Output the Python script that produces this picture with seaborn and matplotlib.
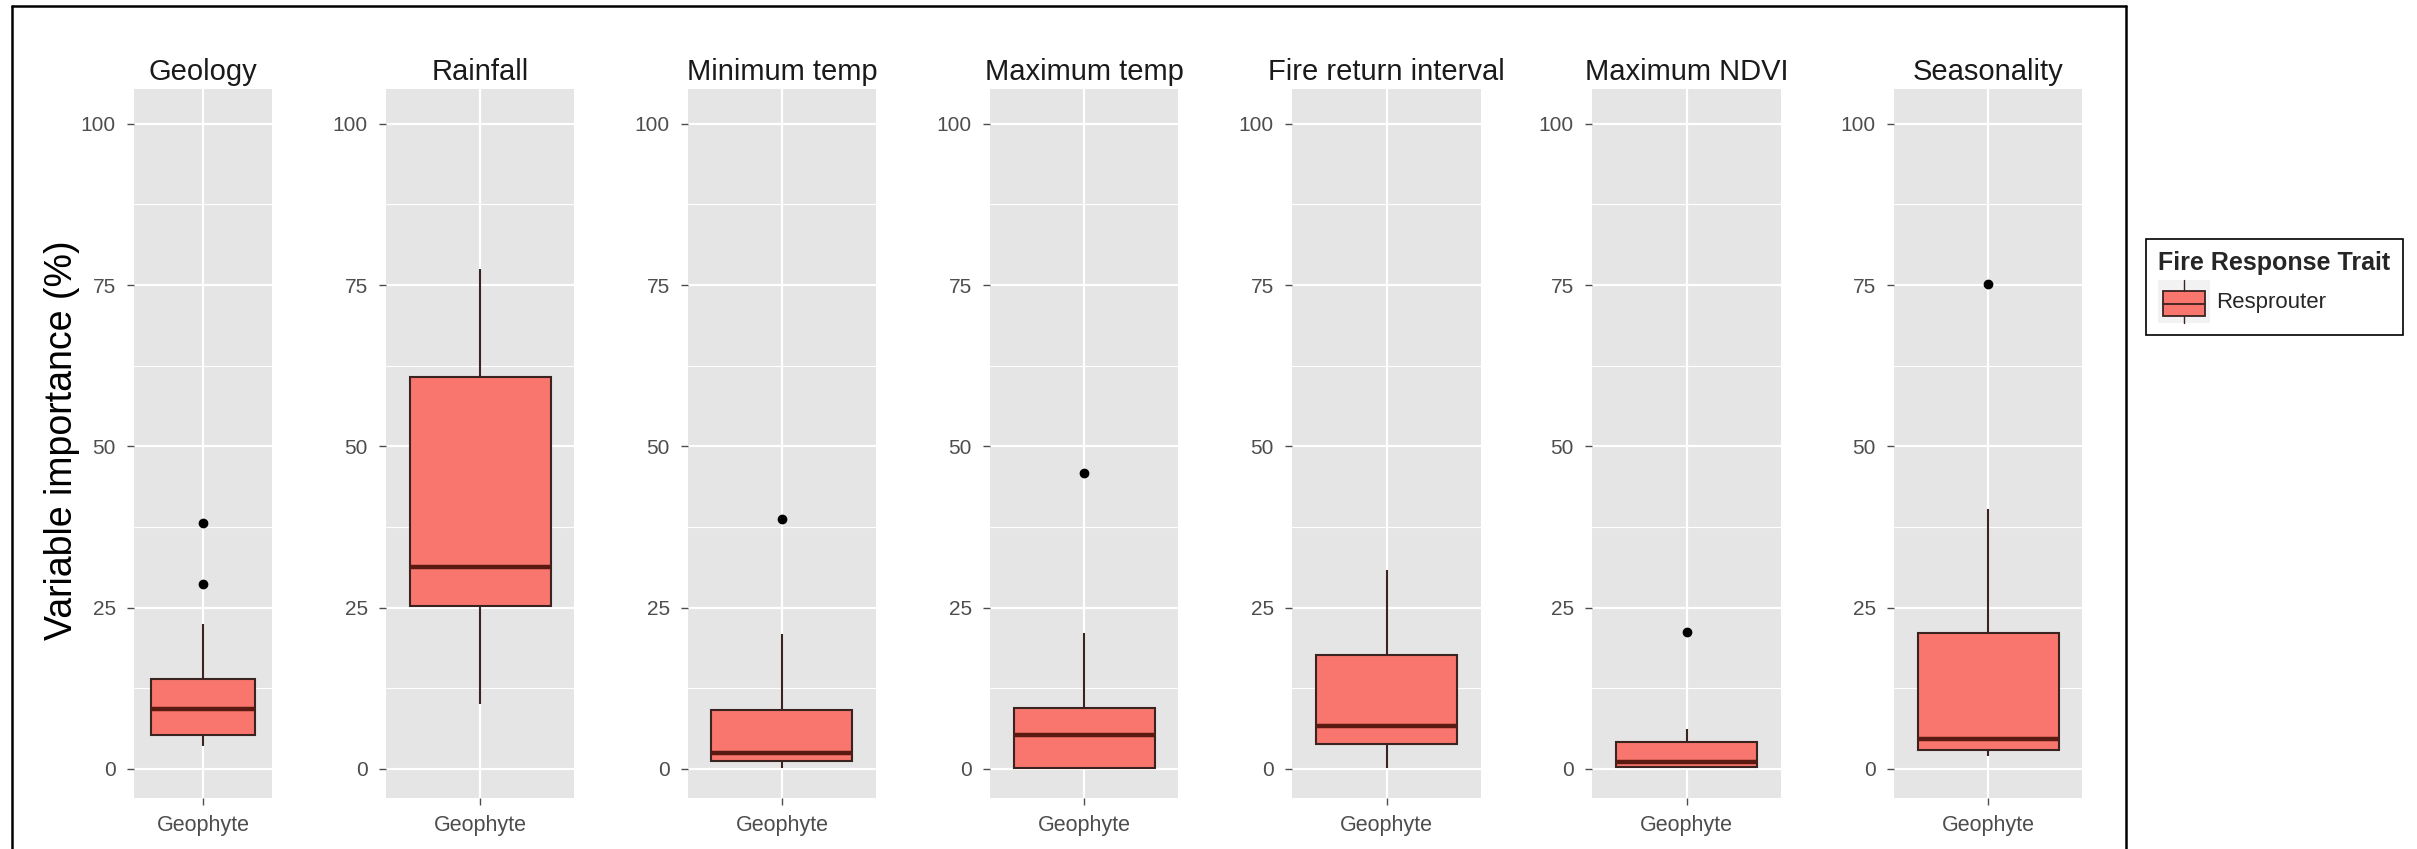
import numpy as np
import pandas as pd
import matplotlib
matplotlib.use("Agg")
import matplotlib.pyplot as plt
import seaborn as sns
from matplotlib.patches import Patch, Rectangle
from matplotlib.lines import Line2D
from matplotlib.legend_handler import HandlerBase

# ---------------- data ----------------
variables = ["Geology", "Rainfall", "Minimum temp", "Maximum temp",
             "Fire return interval", "Maximum NDVI", "Seasonality"]
trait_label = "Geophyte"
response_label = "Resprouter"
legend_title = "Fire Response Trait"
y_title = "Variable importance (%)"
y_ticks = [0, 25, 50, 75, 100]

geology = [3.5, 4.2, 4.8, 5.2, 6.5, 8.0, 9.3, 10.5, 12.0, 13.9, 22.5, 28.7, 38.2]
rainfall = [10.1, 15.0, 20.0, 25.2, 27.0, 29.0, 31.3, 40.0, 50.0, 60.7, 65.0, 70.0, 77.5]
minimum_temp = [0.2, 0.6, 0.9, 1.2, 1.6, 2.0, 2.4, 4.0, 6.5, 9.2, 14.0, 20.9, 38.8]
maximum_temp = [0.1, 0.15, 0.18, 0.2, 1.5, 3.5, 5.3, 6.5, 8.0, 9.5, 14.0, 21.0, 45.9]
fire_return = [0.2, 1.5, 2.8, 3.9, 5.0, 6.0, 6.7, 9.0, 13.0, 17.7, 22.0, 27.0, 30.9]
maximum_ndvi = [0.3, 0.32, 0.34, 0.36, 0.6, 0.9, 1.1, 2.0, 3.0, 4.2, 5.0, 6.2, 21.3]
seasonality = [1.95, 2.3, 2.6, 3.0, 3.5, 4.1, 4.65, 8.0, 14.0, 21.0, 30.0, 40.3, 75.2]

series = [geology, rainfall, minimum_temp, maximum_temp, fire_return, maximum_ndvi, seasonality]

rows = []
for var, vals in zip(variables, series):
    for v in vals:
        rows.append({"variable": var, "trait": trait_label,
                     "response": response_label, "value": v})
df = pd.DataFrame(rows)

# ---------------- style ----------------
FILL = "#F8766D"
EDGE = "#3A2320"
MEDIAN = "#5A1A12"
PANEL_BG = "#E5E5E5"
TICK_COL = "#4D4D4D"

sns.set_theme(style="darkgrid", rc={"axes.facecolor": PANEL_BG,
                                     "grid.color": "white"})
plt.rcParams["font.family"] = ["Liberation Sans", "DejaVu Sans"]

W, H = 2417, 849
fig = plt.figure(figsize=(W / 100, H / 100), dpi=100)
fig.patch.set_facecolor("white")

panel_lefts = [134, 386, 688, 990, 1292, 1592, 1894]
panel_rights = [272, 574, 876, 1178, 1481, 1781, 2082]
top_px, bot_px = 89, 798

for i, var in enumerate(variables):
    l, r = panel_lefts[i], panel_rights[i]
    ax = fig.add_axes([l / W, 1 - bot_px / H, (r - l) / W, (bot_px - top_px) / H])
    sub = df[df["variable"] == var]
    sns.boxplot(data=sub, x="trait", y="value", hue="response",
                palette={response_label: FILL}, saturation=1,
                width=0.9, linecolor=EDGE, linewidth=1.5,
                fliersize=6, showcaps=False, legend=False,
                flierprops=dict(marker="o", markerfacecolor="black",
                                markeredgecolor="black"),
                medianprops=dict(color=MEDIAN, linewidth=3.2),
                ax=ax)
    ax.set_xlim(-0.6, 0.6)
    ax.set_ylim(-4.5, 105.4)
    ax.set_yticks(y_ticks)
    ax.set_yticks([12.5, 37.5, 62.5, 87.5], minor=True)
    ax.set_axisbelow(True)
    ax.grid(False)
    ax.yaxis.grid(True, which="major", color="white", linewidth=1.6)
    ax.yaxis.grid(True, which="minor", color="white", linewidth=0.8)
    ax.xaxis.grid(True, which="major", color="white", linewidth=1.6)
    for s in ax.spines.values():
        s.set_visible(False)
    ax.set_xlabel("")
    ax.set_ylabel("")
    ax.tick_params(axis="y", which="major", length=5, width=1, color=TICK_COL,
                   labelcolor=TICK_COL, labelsize=15, pad=8, left=True)
    ax.tick_params(axis="y", which="minor", length=0)
    ax.tick_params(axis="x", which="major", length=5, width=1, color=TICK_COL,
                   labelcolor=TICK_COL, labelsize=15.5, pad=7, bottom=True)
    ax.set_title(var, fontsize=21, pad=6.5, color="#1A1A1A")

# y axis title
fig.text(62 / W, 1 - 440 / H, y_title, rotation=90, ha="center", va="center",
         fontsize=27, color="black")

# outer frame
frame_kw = dict(color="black", linewidth=1.8, transform=fig.transFigure)
fig.add_artist(Line2D([12 / W, 12 / W], [-0.05, 1 - 6 / H], **frame_kw))
fig.add_artist(Line2D([12 / W, 2126 / W], [1 - 6 / H, 1 - 6 / H], **frame_kw))
fig.add_artist(Line2D([2126 / W, 2126 / W], [-0.05, 1 - 6 / H], **frame_kw))


# legend with a boxplot-style key
class BoxKeyHandler(HandlerBase):
    def create_artists(self, legend, orig_handle, xdescent, ydescent,
                       width, height, fontsize, trans):
        x0, y0 = -xdescent, -ydescent
        bg = Rectangle((x0, y0), width, height, facecolor="#F2F2F2",
                       edgecolor="none", transform=trans)
        bx = Rectangle((x0 + 0.096 * width, y0 + 0.155 * height),
                       0.808 * width, 0.57 * height, facecolor=FILL,
                       edgecolor=EDGE, linewidth=1.3, transform=trans)
        med = Line2D([x0 + 0.096 * width, x0 + 0.904 * width],
                     [y0 + 0.43 * height] * 2, color=EDGE, linewidth=1.3,
                     transform=trans)
        wt = Line2D([x0 + 0.5 * width] * 2, [y0 + 0.725 * height, y0 + height],
                    color=EDGE, linewidth=1.0, transform=trans)
        wb = Line2D([x0 + 0.5 * width] * 2, [y0, y0 + 0.155 * height],
                    color=EDGE, linewidth=1.0, transform=trans)
        return [bg, bx, med, wt, wb]


handle = Patch(facecolor=FILL, edgecolor=EDGE)
leg = fig.legend(handles=[handle], labels=[response_label], title=legend_title,
                 loc="upper left", bbox_to_anchor=(2146 / W, 1 - 239 / H),
                 bbox_transform=fig.transFigure, borderaxespad=0,
                 handler_map={Patch: BoxKeyHandler()},
                 frameon=True, fancybox=False, framealpha=1,
                 edgecolor="black", facecolor="white",
                 fontsize=16, handlelength=2.34, handleheight=2.6,
                 handletextpad=0.25, borderpad=0.55, labelspacing=0.2,
                 alignment="left",
                 title_fontproperties={"weight": "bold", "size": 18})
leg.get_frame().set_linewidth(1.2)

fig.savefig("out.png", dpi=100, facecolor="white")
